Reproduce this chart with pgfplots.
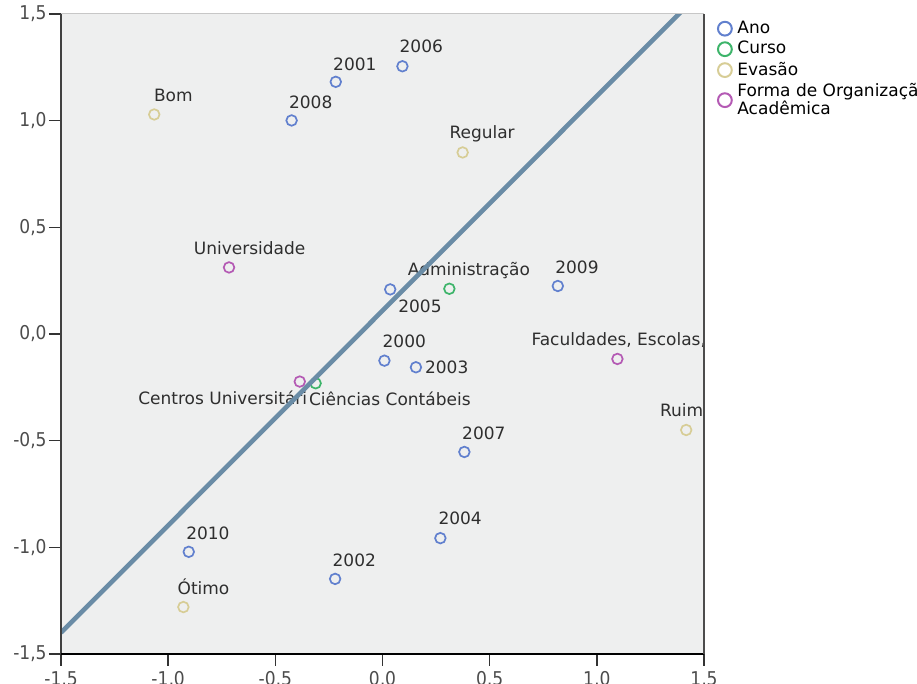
\documentclass[border=0pt]{standalone}
\usepackage{fontspec}
\setmainfont{DejaVu Sans}
\newfontfamily\condfont{DejaVu Sans Condensed}
\usepackage{pgfplots}
\usepackage{pgfplotstable}
\pgfplotsset{compat=1.18}
\definecolor{anoc}{HTML}{6180CE}
\definecolor{cursoc}{HTML}{3DB46A}
\definecolor{evasaoc}{HTML}{D7CD96}
\definecolor{formac}{HTML}{B45AB4}
\definecolor{linec}{HTML}{6A8CA6}
\definecolor{bgc}{HTML}{EEEFEF}
\definecolor{labc}{HTML}{2E2E2E}

\pgfplotstableread{
x y dx dy label
0.009 -0.125 -1.3 6.5 2000
-0.218 1.182 -1.7 5.85 2001
-0.221 -1.148 -1.65 6.15 2002
0.156 -0.156 4.15 -3.35 2003
0.270 -0.957 -1.35 6.65 2004
0.036 0.209 3.65 -11.7 2005
0.093 1.255 -1.8 6.65 2006
0.382 -0.553 -1.5 6.0 2007
-0.424 1.001 -1.7 6.0 2008
0.818 0.225 -1.65 6.35 2009
-0.904 -1.021 -1.65 6.0 2010
}\tabano

\pgfplotstableread{
x y dx dy label
0.312 0.212 -21.15 6.85 Administração
-0.312 -0.231 -3.7 -11.2 {Ciências Contábeis}
}\tabcurso

\pgfplotstableread{
x y dx dy label
-1.065 1.029 -0.5 6.65 Bom
0.374 0.851 -7.0 7.0 Regular
1.417 -0.450 -13.5 6.65 Ruim
-0.929 -1.280 -3.3 6.15 Ótimo
}\tabevasao

\pgfplotstableread{
x y dx dy label
-0.716 0.312 -18.0 6.65 Universidade
1.096 -0.117 -43.35 6.5 {Faculdades, Escolas,}
}\tabforma

\pgfplotstableread{
x y dx dy label
-0.386 -0.223 4.15 -11.3 {Centros Universitári}
}\tabformab

\pgfplotstableread{
x y
-1.5 -1.40
1.5 1.618
}\tabline

\pgfplotsset{lab/.style={only marks, mark=o, mark size=2.65pt, line width=0.85pt,
  forget plot,
  nodes near coords, point meta=explicit symbolic,
  visualization depends on={\thisrow{dx}\as\ldx},
  visualization depends on={\thisrow{dy}\as\ldy},
  nodes near coords style={anchor=base west, xshift=\ldx pt, yshift=\ldy pt}},
  legmark/.style={only marks, mark=o, mark size=3.45pt, line width=1pt}}

\begin{document}
\begin{tikzpicture}
\begin{axis}[
  scale only axis,
  width=321.5pt, height=320pt,
  xmin=-1.5, xmax=1.5, ymin=-1.5, ymax=1.5,
  xtick={-1.5,-1,-0.5,0,0.5,1,1.5},
  ytick={-1.5,-1,-0.5,0,0.5,1,1.5},
  xtick pos=bottom, ytick pos=left,
  tick align=outside,
  major tick length=6pt,
  tick style={black!80, line width=0.8pt},
  axis line style={draw=none},
  axis background/.style={fill=bgc},
  clip mode=individual,
  /pgf/number format/.cd, fixed, fixed zerofill, precision=1, use comma, assume math mode=true,
  /pgfplots/.cd,
  ticklabel style={font=\condfont\fontsize{9.5}{10}\selectfont, text=black!70},
  yticklabel style={inner sep=1pt},
  xticklabel style={inner sep=3pt, yshift=0.3pt},
  every node near coord/.style={font=\fontsize{8.5}{9}\selectfont, text=labc, inner sep=0pt},
  legend cell align=left,
  legend image code/.code={\draw[#1] plot coordinates {(0pt,0pt)};},
  legend style={draw=none, fill=none, inner sep=0pt, outer sep=0pt,
    at={(axis description cs:1,1)}, anchor=north west, xshift=7pt, yshift=-3.5pt,
    font=\fontsize{8.5}{8.85}\selectfont, row sep=2.5pt, column sep=2.8pt,
    nodes={inner sep=0pt, align=left}},
]
\addplot[lab, color=anoc] table[x=x, y=y, meta=label] {\tabano};
\addplot[lab, color=cursoc] table[x=x, y=y, meta=label] {\tabcurso};
\addplot[lab, color=evasaoc] table[x=x, y=y, meta=label] {\tabevasao};
\addplot[lab, color=formac] table[x=x, y=y, meta=label] {\tabforma};
\addplot[lab, color=formac, nodes near coords style={anchor=base east}] table[x=x, y=y, meta=label] {\tabformab};
\addplot[color=linec, line width=2.3pt, no marks, forget plot] table[x=x, y=y] {\tabline};
\addlegendimage{legmark, color=anoc}
\addlegendentry{Ano}
\addlegendimage{legmark, color=cursoc}
\addlegendentry{Curso}
\addlegendimage{legmark, color=evasaoc}
\addlegendentry{Evasão}
\addlegendimage{legmark, color=formac}
\addlegendentry{Forma de Organização\\Acadêmica}
\draw[black!75, line width=1pt] (rel axis cs:0,0) -- (rel axis cs:0,1);
\draw[black, line width=1pt] (rel axis cs:0,0) -- (rel axis cs:1,0);
\draw[black!70, line width=0.75pt] (rel axis cs:1,0) -- (rel axis cs:1,1);
\draw[black!22, line width=0.5pt] (rel axis cs:0,1) -- (rel axis cs:1,1);
\end{axis}
\pgfresetboundingbox
\useasboundingbox (-30.5pt,-15pt) rectangle (428pt,327pt);
\end{tikzpicture}
\end{document}
